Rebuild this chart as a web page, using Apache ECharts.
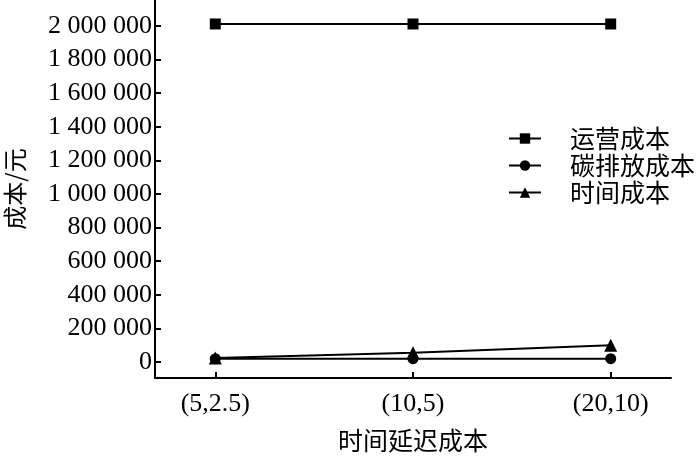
<!DOCTYPE html>
<html>
<head>
<meta charset="utf-8">
<script src="https://cdn.jsdelivr.net/npm/echarts@6/dist/echarts.min.js"></script>
<style>html,body{margin:0;padding:0;background:#fff;}#c{width:700px;height:462px;}</style>
</head>
<body>
<div id="c"></div>
<script>
const categories = ['(5,2.5)', '(10,5)', '(20,10)'];
const seriesNames = ['运营成本', '碳排放成本', '时间成本'];
const operatingCost = [2012000, 2012000, 2012000];
const carbonCost = [20000, 20000, 20000];
const timeCost = [24000, 55000, 100000];
const yTicks = [0, 200000, 400000, 600000, 800000, 1000000, 1200000, 1400000, 1600000, 1800000, 2000000];
const symbols = ['rect', 'circle', 'triangle'];

const serif = '"Liberation Serif", "Times New Roman", serif';
const cjk = '"Noto Sans CJK SC", sans-serif';
function fmt(v) {
  return String(v).replace(/\B(?=(\d{3})+(?!\d))/g, ' ');
}
const allValues = [operatingCost, carbonCost, timeCost];
const chart = echarts.init(document.getElementById('c'), null, {renderer: 'canvas'});
chart.setOption({
  animation: false,
  backgroundColor: '#fff',
  grid: {left: 155, right: 29, top: 0, bottom: 84, containLabel: false, outerBoundsMode: 'none'},
  legend: {
    orient: 'vertical',
    left: 508,
    top: 126,
    padding: 0,
    itemWidth: 32,
    itemHeight: 13,
    itemGap: 2,
    textStyle: {fontFamily: cjk, fontSize: 25, color: '#000', padding: [0, 0, 0, 24], lineHeight: 25},
    data: seriesNames
  },
  xAxis: {
    type: 'value',
    min: -0.305,
    max: 2.305,
    name: '时间延迟成本',
    nameLocation: 'middle',
    nameGap: 50,
    nameTextStyle: {fontFamily: cjk, fontSize: 25, color: '#000'},
    axisLine: {onZero: false, lineStyle: {color: '#000', width: 2}},
    axisTick: {inside: true, length: 6, customValues: [0, 1, 2], lineStyle: {color: '#000', width: 2}},
    axisLabel: {customValues: [0, 1, 2], formatter: v => categories[Math.round(v)] || '', fontFamily: serif, fontSize: 26, color: '#000', margin: 13},
    splitLine: {show: false}
  },
  yAxis: {
    type: 'value',
    min: -95238,
    max: 2154762,
    name: '成本/元',
    nameLocation: 'middle',
    nameGap: 128,
    nameRotate: 90,
    nameTextStyle: {fontFamily: cjk, fontSize: 24, color: '#000'},
    axisLine: {onZero: false, lineStyle: {color: '#000', width: 2}},
    axisTick: {inside: true, length: 6, customValues: yTicks, lineStyle: {color: '#000', width: 2}},
    axisLabel: {customValues: yTicks, formatter: v => fmt(v), fontFamily: serif, fontSize: 26, color: '#000', margin: 3},
    splitLine: {show: false}
  },
  series: seriesNames.map((n, k) => ({
    name: n,
    type: 'line',
    data: categories.map((c, i) => [i, allValues[k][i]]),
    symbol: symbols[k],
    symbolSize: k === 2 ? 13 : 11,
    lineStyle: {color: '#000', width: 2},
    itemStyle: {color: '#000'},
    z: 3 - k
  }))
});
</script>
</body>
</html>
